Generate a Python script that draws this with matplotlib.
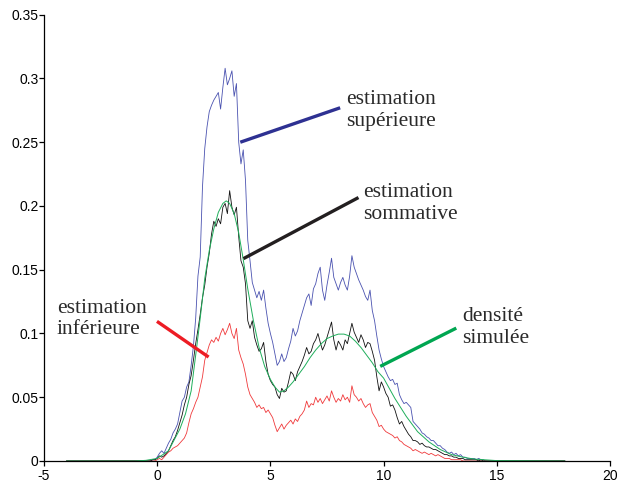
import numpy as np
import matplotlib
matplotlib.use("Agg")
import matplotlib.pyplot as plt

# ---------------- data ----------------
x_start, x_stop, x_step = -0.5, 14.5, 0.1       # sampling grid of the noisy estimates
x_left_end, x_right_end = -4.0, 18.0            # curves are flat (zero) out to here

upper = [  # estimation supérieure (blue)
    0.000, 0.000, 0.000, 0.001, 0.001,
    0.003, 0.006, 0.008, 0.006, 0.010, 0.014, 0.017, 0.022, 0.025, 0.029,
    0.038, 0.047, 0.050, 0.058, 0.062, 0.075, 0.090, 0.112, 0.145, 0.160,
    0.215, 0.245, 0.262, 0.274, 0.279, 0.283, 0.286, 0.289, 0.276, 0.293,
    0.308, 0.295, 0.300, 0.306, 0.286, 0.296, 0.250, 0.233, 0.244, 0.220,
    0.173, 0.157, 0.140, 0.134, 0.128, 0.133, 0.126, 0.134, 0.120, 0.108,
    0.100, 0.093, 0.084, 0.075, 0.078, 0.084, 0.078, 0.081, 0.088, 0.094,
    0.104, 0.098, 0.102, 0.110, 0.116, 0.122, 0.128, 0.131, 0.122, 0.135,
    0.139, 0.147, 0.152, 0.134, 0.126, 0.138, 0.148, 0.159, 0.144, 0.139,
    0.134, 0.140, 0.144, 0.138, 0.134, 0.145, 0.161, 0.152, 0.147, 0.142,
    0.138, 0.134, 0.129, 0.126, 0.134, 0.118, 0.110, 0.098, 0.087, 0.080,
    0.074, 0.070, 0.066, 0.063, 0.064, 0.060, 0.061, 0.052, 0.048, 0.045,
    0.046, 0.044, 0.042, 0.031, 0.029, 0.027, 0.025, 0.022, 0.021, 0.019,
    0.018, 0.016, 0.016, 0.014, 0.012, 0.012, 0.010, 0.009, 0.007, 0.006,
    0.007, 0.005, 0.006, 0.004, 0.005, 0.003, 0.003, 0.002, 0.002, 0.002,
    0.002, 0.001, 0.002, 0.001, 0.001, 0.000,
]

summative = [  # estimation sommative (black)
    0.000, 0.000, 0.000, 0.001, 0.001,
    0.002, 0.004, 0.003, 0.004, 0.006, 0.008, 0.012, 0.016, 0.019, 0.024,
    0.030, 0.036, 0.044, 0.050, 0.060, 0.067, 0.079, 0.092, 0.103, 0.115,
    0.128, 0.138, 0.152, 0.163, 0.178, 0.188, 0.184, 0.190, 0.186, 0.199,
    0.202, 0.194, 0.212, 0.199, 0.193, 0.199, 0.176, 0.157, 0.152, 0.139,
    0.110, 0.104, 0.110, 0.097, 0.091, 0.086, 0.088, 0.093, 0.078, 0.068,
    0.063, 0.060, 0.058, 0.052, 0.049, 0.057, 0.054, 0.055, 0.062, 0.070,
    0.068, 0.063, 0.070, 0.074, 0.078, 0.083, 0.089, 0.084, 0.086, 0.092,
    0.095, 0.100, 0.093, 0.087, 0.091, 0.097, 0.103, 0.109, 0.095, 0.087,
    0.094, 0.091, 0.087, 0.095, 0.092, 0.100, 0.108, 0.101, 0.097, 0.093,
    0.099, 0.095, 0.089, 0.093, 0.092, 0.086, 0.079, 0.066, 0.055, 0.062,
    0.058, 0.053, 0.050, 0.043, 0.044, 0.040, 0.034, 0.029, 0.031, 0.027,
    0.024, 0.021, 0.019, 0.016, 0.016, 0.015, 0.013, 0.014, 0.012, 0.011,
    0.011, 0.010, 0.009, 0.009, 0.008, 0.007, 0.006, 0.005, 0.005, 0.004,
    0.004, 0.003, 0.003, 0.002, 0.002, 0.002, 0.001, 0.001, 0.001, 0.001,
    0.001, 0.001, 0.000, 0.001, 0.000, 0.000,
]

lower = [  # estimation inférieure (red)
    0.000, 0.000, 0.000, 0.000, 0.000,
    0.001, 0.002, 0.001, 0.003, 0.005, 0.007, 0.008, 0.010, 0.011, 0.012,
    0.014, 0.016, 0.018, 0.022, 0.030, 0.037, 0.041, 0.046, 0.050, 0.058,
    0.066, 0.079, 0.085, 0.091, 0.095, 0.093, 0.097, 0.094, 0.100, 0.104,
    0.099, 0.103, 0.108, 0.100, 0.096, 0.104, 0.087, 0.081, 0.076, 0.068,
    0.058, 0.052, 0.049, 0.046, 0.042, 0.044, 0.041, 0.042, 0.038, 0.040,
    0.037, 0.034, 0.028, 0.023, 0.026, 0.029, 0.025, 0.028, 0.030, 0.032,
    0.029, 0.033, 0.031, 0.035, 0.037, 0.040, 0.047, 0.042, 0.045, 0.044,
    0.050, 0.046, 0.049, 0.045, 0.048, 0.051, 0.047, 0.055, 0.050, 0.046,
    0.049, 0.047, 0.052, 0.048, 0.050, 0.046, 0.059, 0.052, 0.050, 0.047,
    0.049, 0.045, 0.042, 0.044, 0.045, 0.038, 0.035, 0.032, 0.027, 0.028,
    0.025, 0.023, 0.022, 0.021, 0.020, 0.018, 0.019, 0.016, 0.015, 0.013,
    0.012, 0.011, 0.010, 0.008, 0.009, 0.008, 0.007, 0.006, 0.007, 0.006,
    0.005, 0.006, 0.005, 0.004, 0.005, 0.004, 0.003, 0.002, 0.002, 0.002,
    0.001, 0.001, 0.001, 0.001, 0.001, 0.000, 0.000, 0.000, 0.000, 0.000,
    0.000, 0.000, 0.000, 0.000, 0.000, 0.000,
]

# densité simulée (green, smooth)
dens_x = [-4.0, -1.0, -0.5, 0.0, 0.5, 1.0, 1.25, 1.5, 1.7, 1.9, 2.1, 2.3, 2.5,
          2.7, 2.9, 3.05, 3.2, 3.4, 3.6, 3.8, 4.0, 4.25, 4.5, 4.75, 5.0, 5.2,
          5.4, 5.6, 5.8, 6.0, 6.25, 6.5, 6.75, 7.0, 7.25, 7.5, 7.75, 8.0, 8.25,
          8.5, 8.75, 9.0, 9.25, 9.5, 9.75, 10.0, 10.25, 10.5, 10.75, 11.0,
          11.5, 12.0, 12.5, 13.0, 13.5, 14.0, 15.0, 18.0]
dens_y = [0.0, 0.0, 0.0005, 0.002, 0.008, 0.025, 0.037, 0.055, 0.083, 0.112,
          0.143, 0.165, 0.182, 0.195, 0.202, 0.204, 0.202, 0.194, 0.179, 0.158,
          0.135, 0.110, 0.089, 0.074, 0.064, 0.058, 0.054, 0.055, 0.058, 0.062,
          0.068, 0.074, 0.081, 0.087, 0.092, 0.096, 0.098, 0.0995, 0.0995,
          0.098, 0.094, 0.089, 0.083, 0.077, 0.070, 0.065, 0.057, 0.049, 0.042,
          0.035, 0.023, 0.015, 0.009, 0.005, 0.003, 0.0015, 0.0003, 0.0]

# annotations: text, text anchor (x, baseline of the last line), pointer segment
ann_texts = ["estimation\nsupérieure", "estimation\nsommative",
             "estimation\ninférieure", "densité\nsimulée"]
ann_text_xy = [(8.33, 0.2626), (9.11, 0.1896), (-4.43, 0.0993), (13.46, 0.0925)]
ann_segments = [((3.67, 0.250), (8.08, 0.277)),
                ((3.81, 0.1587), (8.89, 0.2066)),
                ((-0.01, 0.1095), (2.27, 0.0815)),
                ((9.85, 0.0742), (13.21, 0.1042))]

x_ticks = [-5, 0, 5, 10, 15, 20]
y_ticks = [0, 0.05, 0.1, 0.15, 0.2, 0.25, 0.3, 0.35]
y_tick_labels = ["0", "0.05", "0.1", "0.15", "0.2", "0.25", "0.3", "0.35"]

# ---------------- drawing ----------------
plt.rcParams["axes.unicode_minus"] = False
plt.rcParams["font.family"] = ["Liberation Sans", "DejaVu Sans"]

x_grid = np.round(np.arange(x_start, x_stop + x_step / 2, x_step), 2)
assert len(x_grid) == len(upper) == len(summative) == len(lower)
x_full = np.concatenate([[x_left_end], x_grid, [x_right_end]])

def pad(vals):
    return np.concatenate([[0.0], np.asarray(vals), [0.0]])

fig = plt.figure(figsize=(6.24, 4.82), dpi=100)
ax = fig.add_axes([0.0705, 0.0436, 0.9071, 0.9259])

curve_colors = {"upper": "#4a52b0", "sum": "#111111", "lower": "#f0393b", "dens": "#1fae5b"}
ax.plot(x_full, pad(upper), color=curve_colors["upper"], lw=0.6)
ax.plot(x_full, pad(lower), color=curve_colors["lower"], lw=0.6)
ax.plot(x_full, pad(summative), color=curve_colors["sum"], lw=0.6)
ax.plot(dens_x, dens_y, color=curve_colors["dens"], lw=0.7)

ann_colors = ["#2e3192", "#231f20", "#ed1c24", "#00a651"]
for txt, (tx, ty), ((x0, y0), (x1, y1)), c in zip(ann_texts, ann_text_xy, ann_segments, ann_colors):
    ax.plot([x0, x1], [y0, y1], color=c, lw=2.4, solid_capstyle="butt")
    ax.text(tx, ty, txt, family=["Liberation Serif", "DejaVu Serif"], fontsize=15.5,
            color="#2a2a2a", ha="left", va="baseline", linespacing=1.2)

ax.set_xlim(-5, 20)
ax.set_ylim(0, 0.35)
ax.set_xticks(x_ticks)
ax.set_xticklabels([str(t) for t in x_ticks])
ax.set_yticks(y_ticks)
ax.set_yticklabels(y_tick_labels)
for s in ("top", "right"):
    ax.spines[s].set_visible(False)
for s in ("left", "bottom"):
    ax.spines[s].set_linewidth(0.9)
ax.tick_params(axis="both", direction="out", length=3.8, width=0.9, labelsize=10, colors="black")
ax.tick_params(axis="y", pad=0.0)
ax.tick_params(axis="x", pad=2.0)

fig.savefig("out.png", dpi=100)
